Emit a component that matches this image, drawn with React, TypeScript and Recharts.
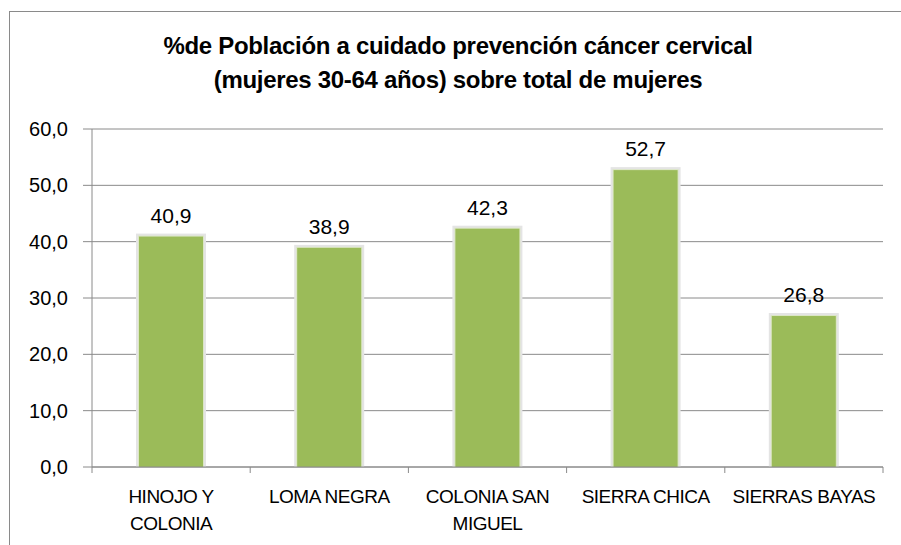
import React from 'react';
import { BarChart, Bar, XAxis, YAxis, CartesianGrid, LabelList } from 'recharts';

const categories = ['HINOJO Y|COLONIA', 'LOMA NEGRA', 'COLONIA SAN|MIGUEL', 'SIERRA CHICA', 'SIERRAS BAYAS'];
const values = [40.9, 38.9, 42.3, 52.7, 26.8];
const yTicks = [0, 10, 20, 30, 40, 50, 60];
const titleLines = ['%de Población a cuidado prevención cáncer cervical', '(mujeres 30-64 años) sobre total de mujeres'];

const data = categories.map((c, i) => ({ name: c, value: values[i] }));

const FONT = '"Liberation Sans", Arial, sans-serif';
const AXIS = '#8a8a8a';

const fmt = (v: any) => Number(v).toFixed(1).replace('.', ',');

const XTick = (props: any) => {
  const { x, y, payload, index } = props;
  const off = payload && payload.offset ? payload.offset : 79;
  const axisY = y - 8;
  const lines = String(payload.value).split('|');
  return (
    <g>
      <line x1={x - off} x2={x - off} y1={axisY} y2={axisY + 6} stroke={AXIS} strokeWidth={1} />
      {index === categories.length - 1 && (
        <line x1={x + off} x2={x + off} y1={axisY} y2={axisY + 6} stroke={AXIS} strokeWidth={1} />
      )}
      {lines.map((l, i) => (
        <text key={i} x={x} y={axisY + 36 + i * 27} textAnchor="middle" fontSize={19} letterSpacing={-0.5} fill="#000" fontFamily={FONT}>
          {l}
        </text>
      ))}
    </g>
  );
};

const BarShape = (props: any) => {
  const { x, y, width, height, fill } = props;
  if (!height || height <= 0) return null;
  return (
    <g>
      <rect x={x - 3} y={y - 3} width={width + 6} height={height + 3} fill="#e4e4e4" />
      <rect x={x - 1} y={y - 1} width={width + 2} height={height + 1} fill="#dbe6c4" />
      <rect x={x} y={y} width={width} height={height} fill={fill} />
    </g>
  );
};

export default function App() {
  return (
    <div style={{ position: 'fixed', left: 0, top: 0, width: 901, height: 545, overflow: 'hidden', background: '#fff' }}>
      <div style={{ position: 'absolute', left: 9, top: 11, width: 1000, height: 1000, border: '1px solid #8a8a8a', boxSizing: 'border-box' }} />
      <div style={{ position: 'absolute', left: 0, top: 0 }}>
        <BarChart width={901} height={545} data={data} margin={{ top: 129, right: 18, bottom: 0, left: 0 }} barCategoryGap="30%">
          <text x={458} y={54} textAnchor="middle" fontSize={24} fontWeight="bold" letterSpacing={-0.3} fontFamily={FONT} fill="#000">
            {titleLines[0]}
          </text>
          <text x={458} y={88} textAnchor="middle" fontSize={24} fontWeight="bold" letterSpacing={-0.3} fontFamily={FONT} fill="#000">
            {titleLines[1]}
          </text>
          <CartesianGrid vertical={false} stroke={AXIS} strokeDasharray="" />
          <XAxis
            dataKey="name"
            axisLine={{ stroke: AXIS }}
            tickLine={false}
            tickSize={6}
            tickMargin={2}
            height={78}
            interval={0}
            tick={<XTick />}
          />
          <YAxis
            domain={[0, 60]}
            ticks={yTicks}
            width={92}
            axisLine={{ stroke: AXIS }}
            tickLine={{ stroke: AXIS }}
            tickSize={9}
            tickMargin={15}
            tickFormatter={fmt}
            tick={{ fontSize: 20, fill: '#000', fontFamily: FONT }}
            interval={0}
          />
          <Bar dataKey="value" fill="#9bbb59" isAnimationActive={false} shape={<BarShape />} barSize={64}>
            <LabelList dataKey="value" position="top" offset={14} formatter={fmt} fontSize={21} fill="#000" fontFamily={FONT} />
          </Bar>
        </BarChart>
      </div>
    </div>
  );
}
